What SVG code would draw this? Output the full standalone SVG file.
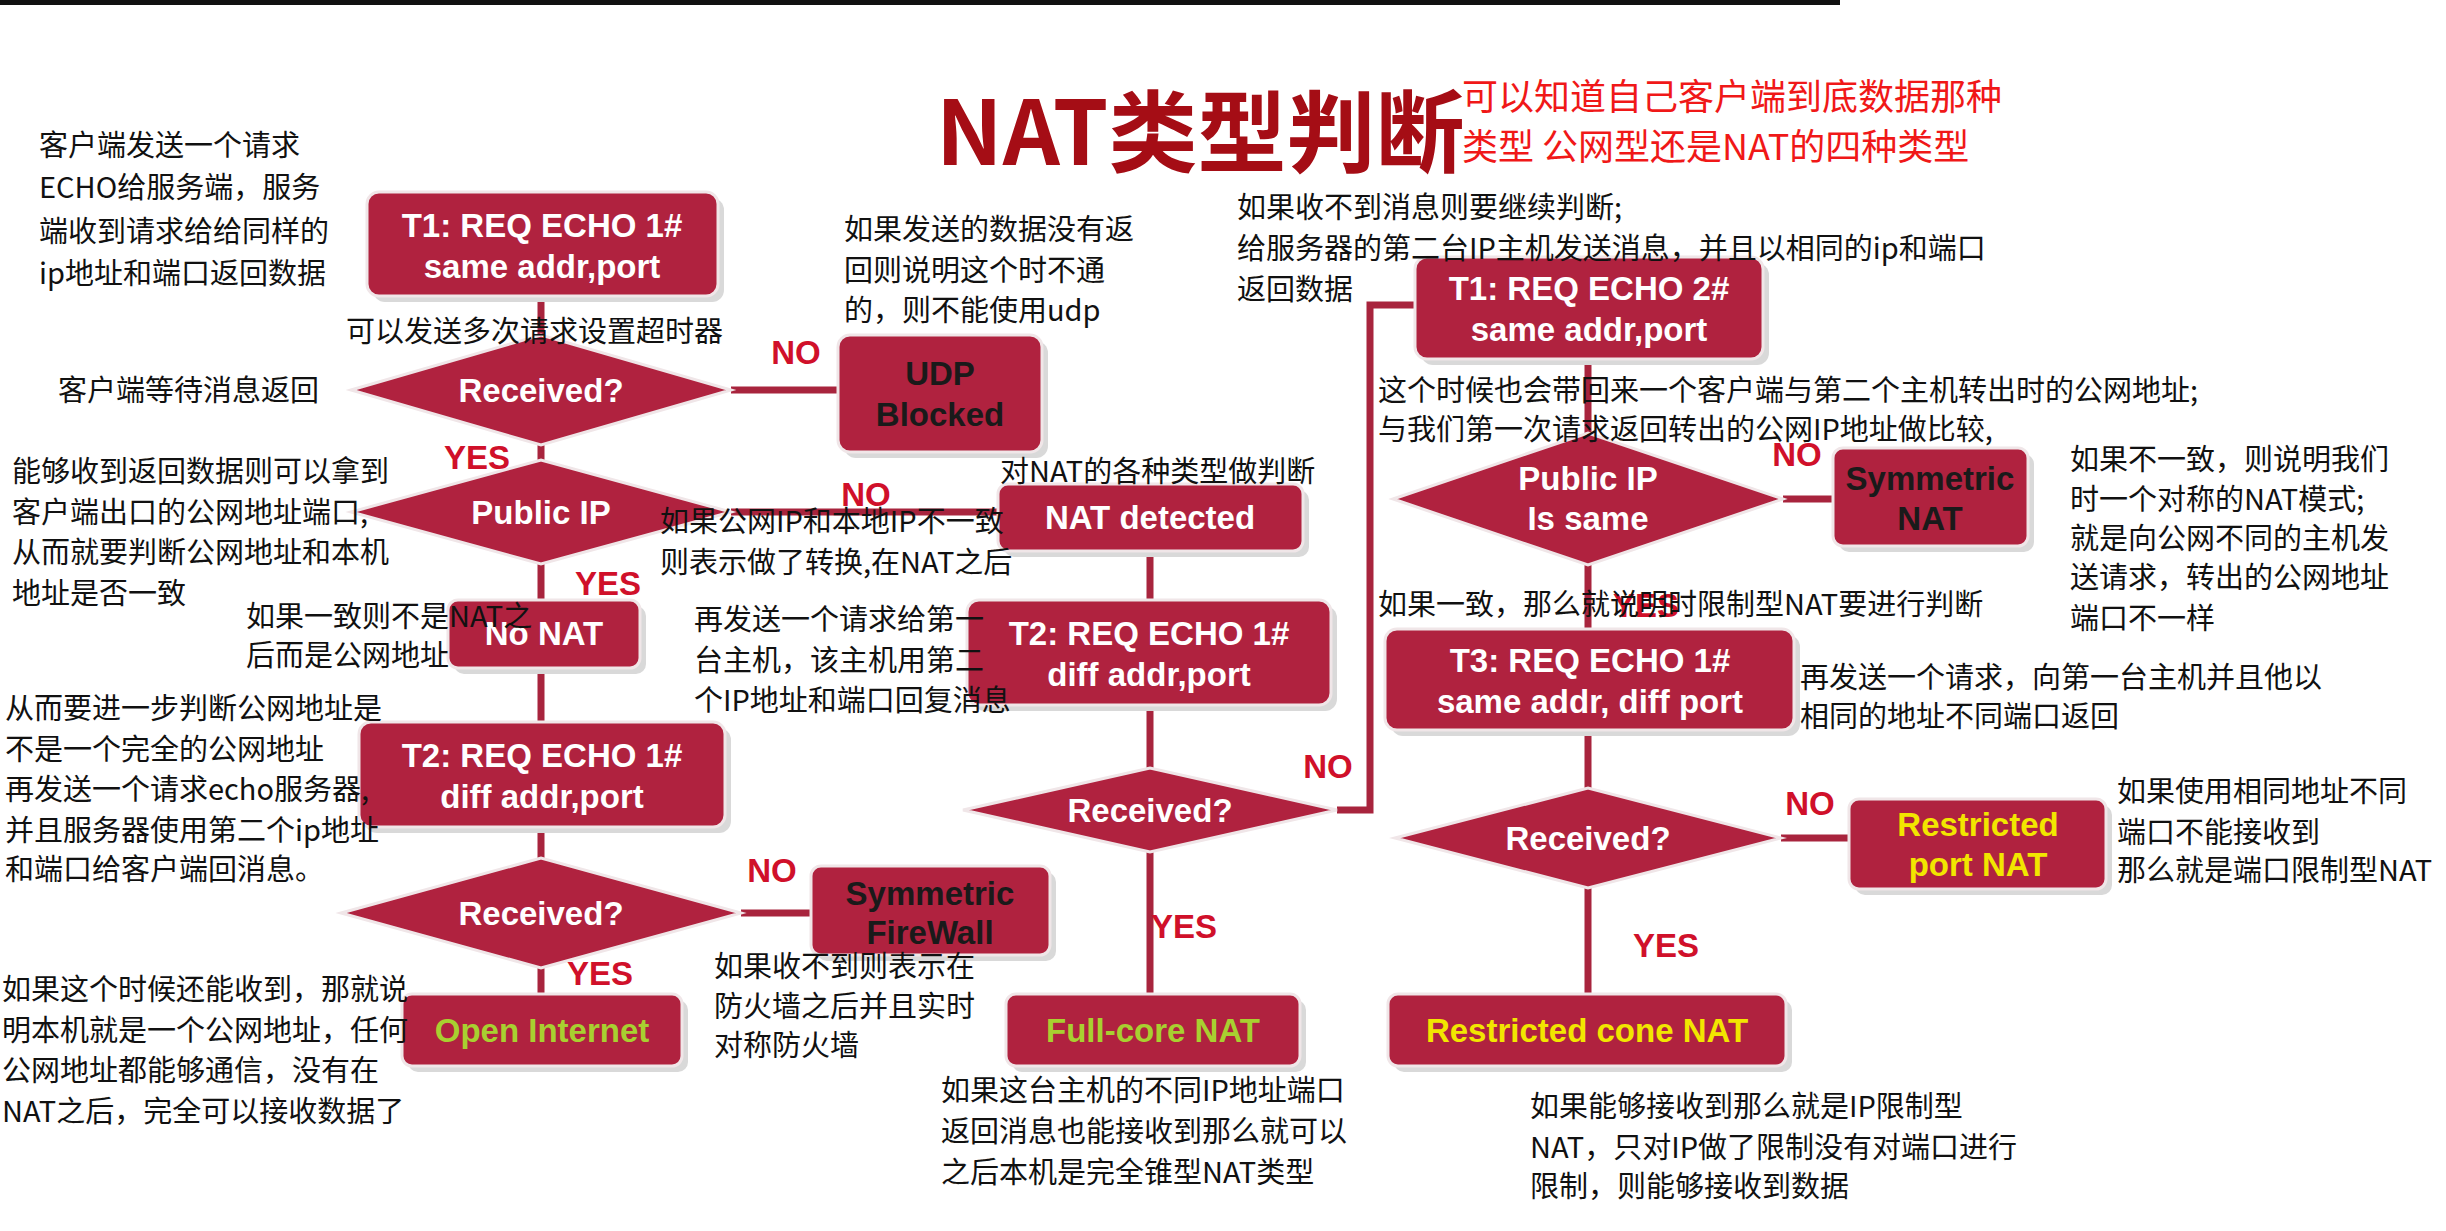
<svg xmlns="http://www.w3.org/2000/svg" width="2446" height="1231" viewBox="0 0 2446 1231">
<style>
.box{fill:#b0223f;stroke:#f0e6e8;stroke-width:3}
.sh{fill:#d9d9d9}
.nt{font-family:"Liberation Sans",Arial,sans-serif;font-weight:bold;font-size:33px;text-anchor:middle}
.w{fill:#fff}.k{fill:#1a1a1a}.y{fill:#f2e600}.g{fill:#a8d030}
.c{stroke:#a8243d;stroke-width:7;fill:none}
.lb{font-family:"Liberation Sans",Arial,sans-serif;font-weight:bold;font-size:33px;fill:#d0102a;text-anchor:middle}
.an{font-family:"Noto Sans CJK SC",sans-serif;font-size:29px;fill:#111}
</style>
<rect x="0" y="0" width="1840" height="5" fill="#111"/>
<text x="936" y="165" font-family="Noto Sans CJK SC,sans-serif" font-weight="bold" font-size="89" fill="#a50d15">NAT类型判断</text>
<text font-family="Noto Sans CJK SC,sans-serif" font-size="36" fill="#f01818"><tspan x="1462" y="110">可以知道自己客户端到底数据那种</tspan><tspan x="1462" y="160">类型 公网型还是NAT的四种类型</tspan></text>
<g id="connectors">
<path class="c" d="M541 296V335M731 390H838M541 445V460M731 512H998M541 564V600M541 668V722M541 827V858M741 913H811M541 968V994M1150 551V600M1150 705V768M1150 852V994M1337 810H1370V305H1415M1588 359V433M1783 499H1833M1588 565V629M1588 730V788M1781 838H1849M1588 888V994"/>
</g>
<g id="t1"><rect class="sh" x="373" y="198" width="351" height="104" rx="12"/><rect class="box" x="367" y="192" width="351" height="104" rx="12"/><text class="nt w" x="542" y="237">T1: REQ ECHO 1#</text><text class="nt w" x="542" y="278">same addr,port</text></g>
<g id="recv1"><polygon class="box" points="351,390 541,335 731,390 541,445"/><text class="nt w" x="541" y="402">Received?</text></g>
<g id="udp"><rect class="sh" x="844" y="341" width="204" height="117" rx="12"/><rect class="box" x="838" y="335" width="204" height="117" rx="12"/><text class="nt k" x="940" y="385">UDP</text><text class="nt k" x="940" y="426">Blocked</text></g>
<g id="pubip"><polygon class="box" points="351,512 541,460 731,512 541,564"/><text class="nt w" x="541" y="524">Public IP</text></g>
<g id="natdet"><rect class="sh" x="1004" y="490" width="305" height="67" rx="10"/><rect class="box" x="998" y="484" width="305" height="67" rx="10"/><text class="nt w" x="1150" y="529">NAT detected</text></g>
<g id="nonat"><rect class="sh" x="454" y="606" width="192" height="68" rx="10"/><rect class="box" x="448" y="600" width="192" height="68" rx="10"/><text class="nt w" x="544" y="645">No NAT</text></g>
<g id="t2a"><rect class="sh" x="365" y="728" width="366" height="105" rx="12"/><rect class="box" x="359" y="722" width="366" height="105" rx="12"/><text class="nt w" x="542" y="767">T2: REQ ECHO 1#</text><text class="nt w" x="542" y="808">diff addr,port</text></g>
<g id="recv2"><polygon class="box" points="341,913 541,858 741,913 541,968"/><text class="nt w" x="541" y="925">Received?</text></g>
<g id="symfw"><rect class="sh" x="817" y="872" width="239" height="89" rx="10"/><rect class="box" x="811" y="866" width="239" height="89" rx="10"/><text class="nt k" x="930" y="905">Symmetric</text><text class="nt k" x="930" y="944">FireWall</text></g>
<g id="open"><rect class="sh" x="408" y="1000" width="280" height="72" rx="10"/><rect class="box" x="402" y="994" width="280" height="72" rx="10"/><text class="nt g" x="542" y="1042">Open Internet</text></g>
<g id="t2b"><rect class="sh" x="973" y="606" width="364" height="105" rx="12"/><rect class="box" x="967" y="600" width="364" height="105" rx="12"/><text class="nt w" x="1149" y="645">T2: REQ ECHO 1#</text><text class="nt w" x="1149" y="686">diff addr,port</text></g>
<g id="recv3"><polygon class="box" points="963,810 1150,768 1337,810 1150,852"/><text class="nt w" x="1150" y="822">Received?</text></g>
<g id="fullcone"><rect class="sh" x="1012" y="1000" width="294" height="72" rx="10"/><rect class="box" x="1006" y="994" width="294" height="72" rx="10"/><text class="nt g" x="1153" y="1042">Full-core NAT</text></g>
<g id="t1b"><rect class="sh" x="1421" y="263" width="348" height="102" rx="12"/><rect class="box" x="1415" y="257" width="348" height="102" rx="12"/><text class="nt w" x="1589" y="300">T1: REQ ECHO 2#</text><text class="nt w" x="1589" y="341">same addr,port</text></g>
<g id="pubsame"><polygon class="box" points="1393,499 1588,433 1783,499 1588,565"/><text class="nt w" x="1588" y="490">Public IP</text><text class="nt w" x="1588" y="530">Is same</text></g>
<g id="symnat"><rect class="sh" x="1839" y="454" width="195" height="98" rx="10"/><rect class="box" x="1833" y="448" width="195" height="98" rx="10"/><text class="nt k" x="1930" y="490">Symmetric</text><text class="nt k" x="1930" y="530">NAT</text></g>
<g id="t3"><rect class="sh" x="1391" y="635" width="409" height="101" rx="12"/><rect class="box" x="1385" y="629" width="409" height="101" rx="12"/><text class="nt w" x="1590" y="672">T3: REQ ECHO 1#</text><text class="nt w" x="1590" y="713">same addr, diff port</text></g>
<g id="recv4"><polygon class="box" points="1395,838 1588,788 1781,838 1588,888"/><text class="nt w" x="1588" y="850">Received?</text></g>
<g id="rport"><rect class="sh" x="1855" y="805" width="257" height="90" rx="10"/><rect class="box" x="1849" y="799" width="257" height="90" rx="10"/><text class="nt y" x="1978" y="836">Restricted</text><text class="nt y" x="1978" y="876">port  NAT</text></g>
<g id="rcone"><rect class="sh" x="1394" y="1000" width="398" height="72" rx="10"/><rect class="box" x="1388" y="994" width="398" height="72" rx="10"/><text class="nt y" x="1587" y="1042">Restricted cone NAT</text></g>
<g id="labels">
<text class="lb" x="796" y="364">NO</text><text class="lb" x="477" y="469">YES</text><text class="lb" x="866" y="506">NO</text><text class="lb" x="608" y="595">YES</text><text class="lb" x="772" y="882">NO</text><text class="lb" x="600" y="985">YES</text><text class="lb" x="1328" y="778">NO</text><text class="lb" x="1184" y="938">YES</text><text class="lb" x="1797" y="466">NO</text><text class="lb" x="1646" y="617">YES</text><text class="lb" x="1810" y="815">NO</text><text class="lb" x="1666" y="957">YES</text>
</g>
<g id="notes" class="an">
<text><tspan x="39" y="156">客户端发送一个请求</tspan><tspan x="39" y="198">ECHO给服务端，服务</tspan><tspan x="39" y="242">端收到请求给给同样的</tspan><tspan x="39" y="284">ip地址和端口返回数据</tspan></text>
<text x="346" y="342">可以发送多次请求设置超时器</text>
<text x="58" y="401">客户端等待消息返回</text>
<text><tspan x="12" y="482">能够收到返回数据则可以拿到</tspan><tspan x="12" y="523">客户端出口的公网地址端口,</tspan><tspan x="12" y="563">从而就要判断公网地址和本机</tspan><tspan x="12" y="604">地址是否一致</tspan></text>
<text><tspan x="246" y="627">如果一致则不是NAT之</tspan><tspan x="246" y="666">后而是公网地址</tspan></text>
<text><tspan x="5" y="719">从而要进一步判断公网地址是</tspan><tspan x="5" y="760">不是一个完全的公网地址</tspan><tspan x="5" y="800">再发送一个请求echo服务器,</tspan><tspan x="5" y="841">并且服务器使用第二个ip地址</tspan><tspan x="5" y="880">和端口给客户端回消息。</tspan></text>
<text><tspan x="2" y="1000">如果这个时候还能收到，那就说</tspan><tspan x="2" y="1041">明本机就是一个公网地址，任何</tspan><tspan x="2" y="1081">公网地址都能够通信，没有在</tspan><tspan x="2" y="1122">NAT之后，完全可以接收数据了</tspan></text>
<text><tspan x="844" y="240">如果发送的数据没有返</tspan><tspan x="844" y="281">回则说明这个时不通</tspan><tspan x="844" y="321">的，则不能使用udp</tspan></text>
<text x="1000" y="482">对NAT的各种类型做判断</text>
<text><tspan x="660" y="532">如果公网IP和本地IP不一致</tspan><tspan x="660" y="573">则表示做了转换,在NAT之后</tspan></text>
<text><tspan x="694" y="630">再发送一个请求给第一</tspan><tspan x="694" y="671">台主机，该主机用第二</tspan><tspan x="694" y="711">个IP地址和端口回复消息</tspan></text>
<text><tspan x="714" y="977">如果收不到则表示在</tspan><tspan x="714" y="1017">防火墙之后并且实时</tspan><tspan x="714" y="1056">对称防火墙</tspan></text>
<text><tspan x="941" y="1101">如果这台主机的不同IP地址端口</tspan><tspan x="941" y="1142">返回消息也能接收到那么就可以</tspan><tspan x="941" y="1183">之后本机是完全锥型NAT类型</tspan></text>
<text><tspan x="1237" y="218">如果收不到消息则要继续判断;</tspan><tspan x="1237" y="259">给服务器的第二台IP主机发送消息，并且以相同的ip和端口</tspan><tspan x="1237" y="300">返回数据</tspan></text>
<text><tspan x="1378" y="401">这个时候也会带回来一个客户端与第二个主机转出时的公网地址;</tspan><tspan x="1378" y="440">与我们第一次请求返回转出的公网IP地址做比较,</tspan></text>
<text><tspan x="2070" y="470">如果不一致，则说明我们</tspan><tspan x="2070" y="510">时一个对称的NAT模式;</tspan><tspan x="2070" y="549">就是向公网不同的主机发</tspan><tspan x="2070" y="588">送请求，转出的公网地址</tspan><tspan x="2070" y="629">端口不一样</tspan></text>
<text x="1378" y="615">如果一致，那么就说明时限制型NAT要进行判断</text>
<text><tspan x="1800" y="688">再发送一个请求，向第一台主机并且他以</tspan><tspan x="1800" y="727">相同的地址不同端口返回</tspan></text>
<text><tspan x="2117" y="802">如果使用相同地址不同</tspan><tspan x="2117" y="843">端口不能接收到</tspan><tspan x="2117" y="881">那么就是端口限制型NAT</tspan></text>
<text><tspan x="1530" y="1117">如果能够接收到那么就是IP限制型</tspan><tspan x="1530" y="1158">NAT，只对IP做了限制没有对端口进行</tspan><tspan x="1530" y="1197">限制，则能够接收到数据</tspan></text>
</g>
</svg>
